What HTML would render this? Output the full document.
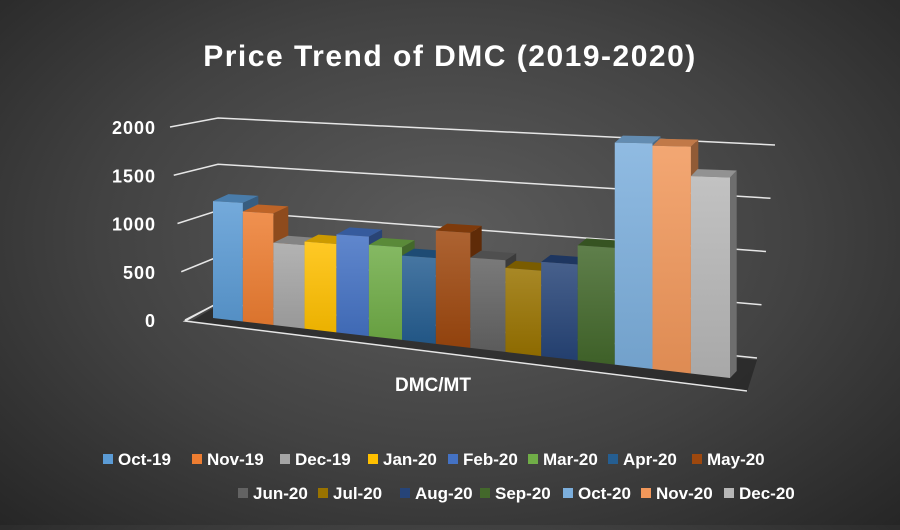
<!DOCTYPE html>
<html><head><meta charset="utf-8"><style>
html,body{margin:0;padding:0}
body{width:900px;height:525px;overflow:hidden;background:radial-gradient(ellipse at 50% 45%,#5c5c5c 0%,#424242 55%,#262626 100%);font-family:"Liberation Sans",sans-serif}
</style></head><body>
<svg id="chart" width="900" height="525" xmlns="http://www.w3.org/2000/svg">
<text x="450" y="66" text-anchor="middle" fill="#fff" font-size="30" font-weight="bold" letter-spacing="1.5" font-family="Liberation Sans, sans-serif">Price Trend of DMC (2019-2020)</text>
<g id="grid"></g><g id="floor"></g><g id="bars"></g><g id="legend"></g>
<text x="433" y="391" text-anchor="middle" fill="#fff" font-size="19" font-weight="bold" font-family="Liberation Sans, sans-serif">DMC/MT</text>
</svg>
<script>
const categories=["Oct-19","Nov-19","Dec-19","Jan-20","Feb-20","Mar-20","Apr-20","May-20","Jun-20","Jul-20","Aug-20","Sep-20","Oct-20","Nov-20","Dec-20"];
const values=[1230,1140,840,875,970,890,810,1070,840,770,850,1020,1940,1920,1670];
const tickValues=[0,500,1000,1500,2000];
const colors=["#5b9bd5","#ed7d31","#a5a5a5","#ffc000","#4472c4","#70ad47","#255e91","#9e480e","#636363","#997300","#264478","#43682b","#7cafdd","#f1975a","#b7b7b7"];
const NS="http://www.w3.org/2000/svg";
function mk(tag,attrs,parent){const e=document.createElementNS(NS,tag);for(const k in attrs)e.setAttribute(k,attrs[k]);parent.appendChild(e);return e;}
function shade(hex,f){const n=parseInt(hex.slice(1),16);let r=n>>16,g=(n>>8)&255,b=n&255;
 const c=v=>Math.max(0,Math.min(255,Math.round(f<1?v*f:v+(255-v)*(f-1))));return `rgb(${c(r)},${c(g)},${c(b)})`;}
const xU=u=>213+443*u+74*u*u;
const yBase=x=>318+(x-213)*0.116;
const sc=x=>0.095+(x-213)*0.0000484;
const backLeftY=v=>303-v*0.0925;
const backRightY=v=>358-v*0.1065;
const frontLeftY=v=>320-v*0.0965;
const grid=document.getElementById('grid');
tickValues.forEach(v=>{
 const fy=frontLeftY(v),fx=185-v*0.0075;
 const g=mk('polyline',{points:`${fx},${fy} 218,${backLeftY(v)} ${v===0?757:775-(2000-v)*0.009},${backRightY(v)}`,fill:'none',stroke:'#e6e6e6','stroke-width':1.5},grid);
 
 
 const t=mk('text',{x:156,y:fy+7,'text-anchor':'end',fill:'#fff','font-size':18,'font-weight':'bold','letter-spacing':1,'font-family':'Liberation Sans, sans-serif'},grid);
 t.textContent=v;
 
 
});
const floor=document.getElementById('floor');
const fl=mk('polygon',{points:`190,322 218,305 757,360 747,392`,fill:'#1e1e1e',opacity:0.6},floor);


const fe=mk('polyline',{points:`218,303 185,321 747,391`,fill:'none',stroke:'#e6e6e6','stroke-width':1.5},floor);


const bars=document.getElementById('bars');
const N=categories.length;
for(let i=0;i<N;i++){
 const x0=xU(i/N),x1=xU((i+1)/N);
 const b0=yBase(x0),b1=yBase(x1);
 const h0=values[i]*sc(x0),h1=values[i]*sc(x1);
 const t0=b0-h0,t1=b1-h1;
 const dx=16-(x1-213)*0.018,dy=-7;
 const g=mk('g',{},bars);
 
 
 mk('polygon',{points:`${x1},${t1} ${x1+dx},${t1+dy} ${x1+dx},${b1+dy} ${x1},${b1}`,fill:shade(colors[i],0.6)},g);
 mk('polygon',{points:`${x0},${t0} ${x1},${t1} ${x1+dx},${t1+dy} ${x0+dx},${t0+dy}`,fill:shade(colors[i],0.8)},g);
 const gid='gr'+i;
 const lg=mk('linearGradient',{id:gid,x1:0,y1:0,x2:0,y2:1},g);
 mk('stop',{offset:0,'stop-color':shade(colors[i],1.15)},lg);
 mk('stop',{offset:1,'stop-color':shade(colors[i],0.92)},lg);
 mk('polygon',{points:`${x0},${t0} ${x1},${t1} ${x1},${b1} ${x0},${b0}`,fill:`url(#${gid})`},g);
}
const legend=document.getElementById('legend');
const lx=[103,192,280,368,448,528,608,692,238,318,400,480,563,641,724];
for(let i=0;i<N;i++){
 const row=i<8?0:1,y=row?494:460;
 const g=mk('g',{},legend);
 
 
 mk('rect',{x:lx[i],y:y-6,width:10,height:10,fill:colors[i]},g);
 const t=mk('text',{x:lx[i]+15,y:y+5,fill:'#fff','font-size':17,'font-weight':'bold','font-family':'Liberation Sans, sans-serif'},g);
 t.textContent=categories[i];
}
</script>
</body></html>
